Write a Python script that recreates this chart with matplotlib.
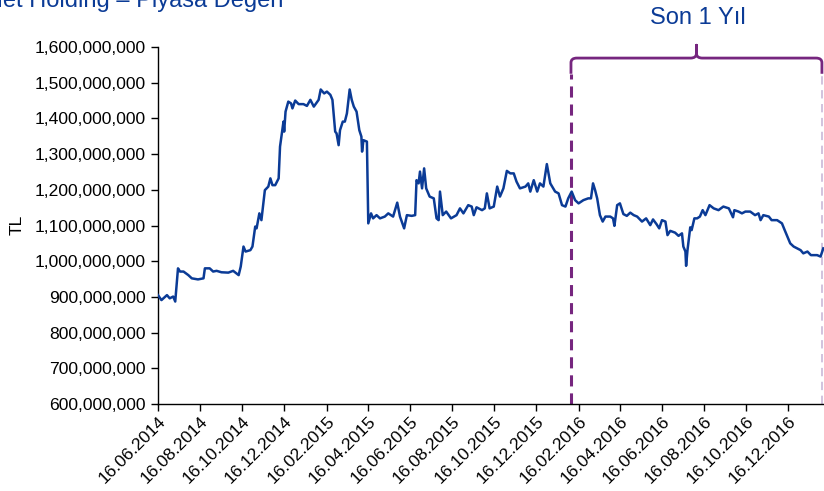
import numpy as np
import pandas as pd
import matplotlib
matplotlib.use('Agg')
import matplotlib.pyplot as plt
import matplotlib.dates as mdates
from matplotlib.path import Path
from matplotlib.patches import PathPatch
from matplotlib.ticker import FuncFormatter

plt.rcParams['font.family'] = ['Liberation Sans', 'DejaVu Sans']
plt.rcParams['lines.scale_dashes'] = False

# market value, millions of TL
dates = ['2014-06-16', '2014-06-21', '2014-06-29', '2014-07-03', '2014-07-08', '2014-07-11',
         '2014-07-15', '2014-07-18', '2014-07-23', '2014-07-30', '2014-08-04', '2014-08-13',
         '2014-08-21', '2014-08-23', '2014-08-30', '2014-09-04', '2014-09-09', '2014-09-16',
         '2014-09-26', '2014-10-03', '2014-10-11', '2014-10-14', '2014-10-18', '2014-10-21',
         '2014-10-28', '2014-10-31', '2014-11-04', '2014-11-06', '2014-11-10', '2014-11-13',
         '2014-11-18', '2014-11-23', '2014-11-26', '2014-11-29', '2014-12-03', '2014-12-08',
         '2014-12-10', '2014-12-15', '2014-12-16', '2014-12-18', '2014-12-22', '2014-12-26',
         '2014-12-28', '2015-01-01', '2015-01-06', '2015-01-13', '2015-01-18', '2015-01-23',
         '2015-01-28', '2015-02-04', '2015-02-07', '2015-02-12', '2015-02-16', '2015-02-21',
         '2015-02-24', '2015-02-28', '2015-03-02', '2015-03-05', '2015-03-07', '2015-03-11',
         '2015-03-14', '2015-03-17', '2015-03-21', '2015-03-24', '2015-03-27', '2015-03-31',
         '2015-04-04', '2015-04-07', '2015-04-08', '2015-04-10', '2015-04-15', '2015-04-17',
         '2015-04-21', '2015-04-24', '2015-04-29', '2015-05-04', '2015-05-11', '2015-05-16',
         '2015-05-23', '2015-05-29', '2015-06-02', '2015-06-08', '2015-06-12', '2015-06-19',
         '2015-06-24', '2015-06-26', '2015-06-29', '2015-07-01', '2015-07-04', '2015-07-07',
         '2015-07-10', '2015-07-15', '2015-07-21', '2015-07-25', '2015-07-28', '2015-07-30',
         '2015-08-03', '2015-08-08', '2015-08-15', '2015-08-23', '2015-08-28', '2015-09-02',
         '2015-09-09', '2015-09-14', '2015-09-17', '2015-09-21', '2015-09-29', '2015-10-03',
         '2015-10-06', '2015-10-10', '2015-10-16', '2015-10-21', '2015-10-25', '2015-10-30',
         '2015-11-04', '2015-11-09', '2015-11-14', '2015-11-18', '2015-11-23', '2015-12-01',
         '2015-12-05', '2015-12-08', '2015-12-13', '2015-12-18', '2015-12-22', '2015-12-27',
         '2016-01-01', '2016-01-06', '2016-01-13', '2016-01-18', '2016-01-23', '2016-01-28',
         '2016-02-01', '2016-02-06', '2016-02-11', '2016-02-16', '2016-02-23', '2016-03-01',
         '2016-03-05', '2016-03-08', '2016-03-11', '2016-03-14', '2016-03-18', '2016-03-22',
         '2016-03-26', '2016-04-02', '2016-04-06', '2016-04-08', '2016-04-12', '2016-04-16',
         '2016-04-21', '2016-04-26', '2016-05-01', '2016-05-06', '2016-05-11', '2016-05-18',
         '2016-05-24', '2016-05-30', '2016-06-03', '2016-06-08', '2016-06-12', '2016-06-16',
         '2016-06-21', '2016-06-24', '2016-06-28', '2016-07-05', '2016-07-10', '2016-07-15',
         '2016-07-17', '2016-07-20', '2016-07-21', '2016-07-23', '2016-07-27', '2016-07-29',
         '2016-08-02', '2016-08-06', '2016-08-10', '2016-08-14', '2016-08-18', '2016-08-24',
         '2016-08-30', '2016-09-06', '2016-09-13', '2016-09-21', '2016-09-27', '2016-09-29',
         '2016-10-05', '2016-10-10', '2016-10-15', '2016-10-22', '2016-10-29', '2016-11-03',
         '2016-11-06', '2016-11-10', '2016-11-18', '2016-11-22', '2016-11-30', '2016-12-07',
         '2016-12-11', '2016-12-19', '2016-12-24', '2016-12-29', '2017-01-03', '2017-01-07',
         '2017-01-13', '2017-01-18', '2017-01-27', '2017-02-01', '2017-02-05']
values = [905, 891, 905, 896, 901, 887,
          980, 971, 971, 961, 952, 949,
          952, 980, 980, 971, 973, 969,
          968, 973, 961, 985, 1041, 1027,
          1031, 1041, 1097, 1092, 1134, 1115,
          1199, 1209, 1232, 1213, 1213, 1232,
          1321, 1391, 1363, 1419, 1447, 1442,
          1428, 1450, 1440, 1440, 1435, 1452,
          1433, 1452, 1481, 1470, 1475, 1466,
          1452, 1363, 1358, 1325, 1367, 1391,
          1391, 1414, 1481, 1452, 1433, 1419,
          1367, 1349, 1307, 1339, 1335, 1106,
          1134, 1120, 1129, 1120, 1125, 1134,
          1125, 1164, 1125, 1092, 1129, 1127,
          1129, 1227, 1218, 1251, 1204, 1260,
          1204, 1181, 1176, 1120, 1115, 1195,
          1129, 1139, 1120, 1129, 1148, 1134,
          1157, 1153, 1129, 1151, 1143, 1148,
          1190, 1148, 1153, 1209, 1181, 1204,
          1253, 1246, 1246, 1223, 1204, 1209,
          1218, 1195, 1227, 1195, 1218, 1209,
          1272, 1218, 1195, 1190, 1157, 1153,
          1176, 1195, 1171, 1162, 1171, 1176,
          1176, 1218, 1199, 1176, 1129, 1111,
          1125, 1125, 1120, 1099, 1157, 1162,
          1132, 1127, 1136, 1129, 1125, 1111,
          1120, 1101, 1117, 1104, 1092, 1115,
          1111, 1073, 1085, 1080, 1071, 1078,
          1041, 1027, 987, 1031, 1095, 1087,
          1120, 1120, 1125, 1143, 1129, 1157,
          1148, 1143, 1153, 1148, 1123, 1143,
          1139, 1134, 1139, 1139, 1129, 1134,
          1115, 1129, 1125, 1115, 1115, 1106,
          1087, 1050, 1041, 1036, 1031, 1022,
          1027, 1017, 1017, 1013, 1036]

tick_dates = ['2014-06-16', '2014-08-16', '2014-10-16', '2014-12-16', '2015-02-16', '2015-04-16',
              '2015-06-16', '2015-08-16', '2015-10-16', '2015-12-16', '2016-02-16', '2016-04-16',
              '2016-06-16', '2016-08-16', '2016-10-16', '2016-12-16']
period_start = '2016-02-05'
period_end = '2017-02-03'

blue = '#0b3b96'
purple = '#76267f'
fs = 12.6

x = pd.to_datetime(dates)
y = np.array(values) * 1e6

fig = plt.figure(figsize=(8.24, 4.91), dpi=100)
ax = fig.add_axes([158 / 824, 87 / 491, 666 / 824, 357 / 491])

ax.plot(x, y, color=blue, lw=1.8, zorder=3)

ax.set_xlim(pd.Timestamp('2014-06-16'), pd.Timestamp('2017-02-06'))
ax.set_ylim(600e6, 1600e6)
ax.set_yticks(np.arange(600e6, 1600e6 + 1, 100e6))
ax.yaxis.set_major_formatter(FuncFormatter(lambda v, p: '{:,.0f}'.format(v)))
ax.set_xticks(pd.to_datetime(tick_dates))
ax.xaxis.set_major_formatter(mdates.DateFormatter('%d.%m.%Y'))
ax.tick_params(axis='both', direction='out', length=5, width=1, labelsize=fs, colors='black')
ax.tick_params(axis='y', pad=4)
ax.tick_params(axis='x', pad=2)
for lab in ax.get_xticklabels():
    lab.set_rotation(45)
    lab.set_ha('right')
    lab.set_rotation_mode('anchor')
for s in ['top', 'right']:
    ax.spines[s].set_visible(False)
for s in ['left', 'bottom']:
    ax.spines[s].set_linewidth(1)

# bracket for the last year
L = mdates.date2num(pd.Timestamp(period_start))
R = mdates.date2num(pd.Timestamp(period_end))
M = (L + R) / 2
top = 1569e6
low = 1525e6
r_x = 8.5
r_y = 13e6
verts = [(L, low), (L, top - r_y), (L, top), (L + r_x, top),
         (M - r_x, top), (M, top), (M, top + r_y), (M, top + 36e6),
         (M, top + r_y), (M, top), (M + r_x, top),
         (R - r_x, top), (R, top), (R, top - r_y), (R, low)]
codes = [Path.MOVETO, Path.LINETO, Path.CURVE3, Path.CURVE3,
         Path.LINETO, Path.CURVE3, Path.CURVE3, Path.LINETO,
         Path.LINETO, Path.CURVE3, Path.CURVE3,
         Path.LINETO, Path.CURVE3, Path.CURVE3, Path.LINETO]
ax.add_patch(PathPatch(Path(verts, codes), fill=False, edgecolor=purple, lw=2.0,
                       clip_on=False, capstyle='butt', joinstyle='round'))

ax.plot([L, L], [600e6, low], color=purple, lw=2.2, dashes=(8, 5), clip_on=False)
ax.plot([R, R], [600e6, low], color='#c9b9d8', lw=1.2, dashes=(6, 4), clip_on=False)

fig.text(698 / 824, 1 - 18 / 491, 'Son 1 Yıl', color=blue, fontsize=17, ha='center', va='center')
fig.text(283 / 824, 1 - 7 / 491, 'Net Holding – Piyasa Değeri', color=blue, fontsize=17,
         ha='right', va='baseline')
fig.text(17 / 824, 1 - 225 / 491, 'TL', rotation=90, fontsize=fs, ha='center', va='center')

fig.savefig('out.png', dpi=100)
